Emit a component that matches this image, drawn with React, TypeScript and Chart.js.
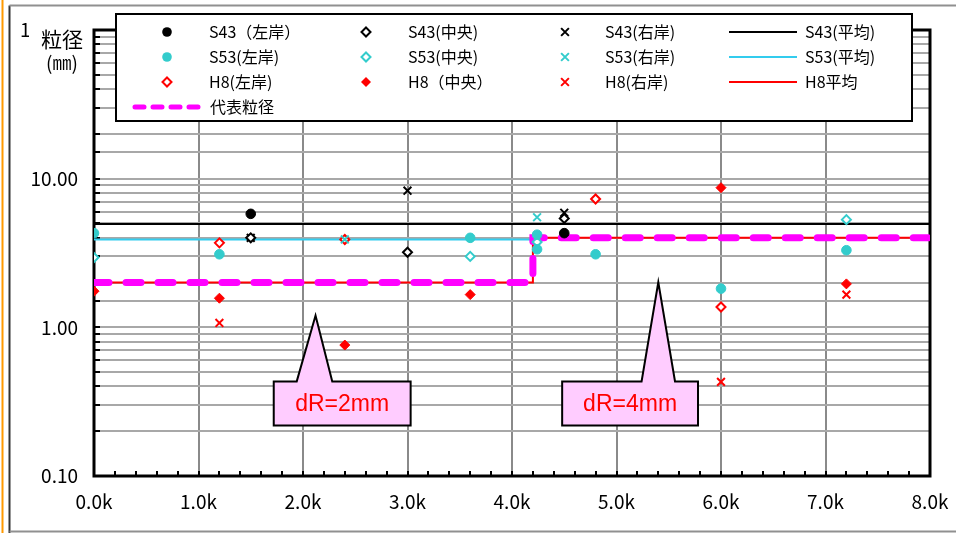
import React, { useEffect, useRef } from 'react';
import { Chart, registerables } from 'chart.js';

Chart.register(...registerables);

// ---- data (distance in k, grain size in mm) ----
const s43Left = [[1.5, 5.8], [4.5, 4.3]];
const s43Center = [[1.5, 4.0], [3.0, 3.2], [4.5, 5.4]];
const s43Right = [[1.5, 4.0], [3.0, 8.3], [4.5, 5.9]];
const s53Left = [[0, 4.3], [1.2, 3.1], [3.6, 4.0], [4.24, 4.2], [4.24, 3.35], [4.8, 3.1], [6.0, 1.82], [7.2, 3.3]];
const s53Center = [[0, 2.95], [3.6, 3.0], [4.24, 3.75], [7.2, 5.3]];
const s53Right = [[2.4, 3.9], [4.24, 5.5]];
const h8Left = [[1.2, 3.7], [2.4, 3.9], [4.8, 7.3], [6.0, 1.37]];
const h8Center = [[0, 1.75], [1.2, 1.57], [2.4, 0.76], [3.6, 1.66], [6.0, 8.7], [7.2, 1.96]];
const h8Right = [[1.2, 1.07], [6.0, 0.43], [7.2, 1.66]];
const s43Avg = [[0, 4.95], [8, 4.95]];
const s53Avg = [[0, 3.9], [4.2, 3.9]];
const h8Avg = [[0, 2.0], [4.2, 2.0], [4.2, 4.0], [8, 4.0]];
const repSize = [[0, 2.0], [4.2, 2.0], [4.2, 4.0], [8, 4.0]];

const xMin = 0;
const xMax = 8;
const yMin = 0.1;
const yMax = 100;

const callouts = [
  { text: 'dR=2mm', tip: [2.12, 1.2], base: [1.94, 2.28], box: [1.72, 3.03, 0.433, 0.219] },
  { text: 'dR=4mm', tip: [5.4, 2.01], base: [5.24, 5.56], box: [4.48, 5.78, 0.433, 0.219] },
];

const FONT = '"Noto Sans CJK JP", "Noto Sans", sans-serif';
const CYAN = '#33CCCC';
const SKY = '#33CCEE';
const RED = '#FF0000';
const MAGENTA = '#FF00FF';

const toXY = (arr: number[][]) => arr.map(([x, y]) => ({ x, y }));

type Mk = 'circle' | 'diamondOpen' | 'diamondFill' | 'cross' | 'line' | 'dash';

function pointDs(label: string, data: number[][], color: string, mk: Mk, row: number, col: number) {
  const base: any = {
    label,
    data: toXY(data),
    showLine: false,
    order: 0,
    mk,
    row,
    col,
    mkColor: color,
  };
  if (mk === 'circle') {
    Object.assign(base, { pointStyle: 'circle', pointRadius: 4.8, backgroundColor: color, borderColor: color, borderWidth: 1 });
  } else if (mk === 'diamondOpen') {
    Object.assign(base, { pointStyle: 'rectRot', pointRadius: 4.5, backgroundColor: '#ffffff', borderColor: color, borderWidth: 2 });
  } else if (mk === 'diamondFill') {
    Object.assign(base, { pointStyle: 'rectRot', pointRadius: 5, backgroundColor: color, borderColor: color, borderWidth: 1 });
  } else {
    Object.assign(base, { pointStyle: 'crossRot', pointRadius: 5.5, backgroundColor: color, borderColor: color, borderWidth: 2 });
  }
  return base;
}

function lineDs(label: string, data: number[][], color: string, row: number, col: number, width = 2, dash?: number[]) {
  return {
    label,
    data: toXY(data),
    showLine: true,
    pointRadius: 0,
    borderColor: color,
    backgroundColor: color,
    borderWidth: width,
    borderDash: dash || [],
    borderCapStyle: dash ? 'round' : 'butt',
    tension: 0,
    order: dash ? 1 : 2,
    mk: dash ? 'dash' : 'line',
    row,
    col,
    mkColor: color,
  };
}

function drawMarker(ctx: CanvasRenderingContext2D, mk: Mk, x: number, y: number, color: string) {
  ctx.save();
  ctx.strokeStyle = color;
  ctx.fillStyle = color;
  if (mk === 'circle') {
    ctx.beginPath();
    ctx.arc(x, y, 4.8, 0, Math.PI * 2);
    ctx.fill();
  } else if (mk === 'diamondOpen' || mk === 'diamondFill') {
    const r = mk === 'diamondOpen' ? 4.5 : 5;
    ctx.beginPath();
    ctx.moveTo(x, y - r);
    ctx.lineTo(x + r, y);
    ctx.lineTo(x, y + r);
    ctx.lineTo(x - r, y);
    ctx.closePath();
    if (mk === 'diamondOpen') {
      ctx.fillStyle = '#fff';
      ctx.fill();
      ctx.lineWidth = 2;
      ctx.stroke();
    } else {
      ctx.fill();
    }
  } else if (mk === 'cross') {
    const d = 5.5 * Math.SQRT1_2;
    ctx.lineWidth = 2;
    ctx.beginPath();
    ctx.moveTo(x - d, y - d);
    ctx.lineTo(x + d, y + d);
    ctx.moveTo(x + d, y - d);
    ctx.lineTo(x - d, y + d);
    ctx.stroke();
  }
  ctx.restore();
}

const isPow10 = (v: number) => Math.abs(Math.log10(v) - Math.round(Math.log10(v))) < 1e-9;

const decorPlugin = {
  id: 'decor',
  beforeDatasetsDraw(chart: any) {
    const { ctx, chartArea: a, scales } = chart;
    const xs = scales.x;
    const ys = scales.y;
    ctx.save();
    // inner ticks on y axis
    ctx.strokeStyle = '#000';
    ctx.lineWidth = 2;
    ys.ticks.forEach((t: any) => {
      const py = Math.round(ys.getPixelForValue(t.value));
      ctx.beginPath();
      ctx.moveTo(a.left, py);
      ctx.lineTo(a.left + 6, py);
      ctx.stroke();
    });
    // inner minor ticks on x axis
    for (let i = 0; i <= 40; i++) {
      const px = Math.round(xs.getPixelForValue(i * 0.2));
      ctx.beginPath();
      ctx.moveTo(px, a.bottom);
      ctx.lineTo(px, a.bottom - 5);
      ctx.stroke();
    }
    // plot frame
    ctx.lineWidth = 3;
    ctx.strokeRect(a.left, a.top, a.right - a.left, a.bottom - a.top);
    ctx.restore();
  },
  afterDraw(chart: any) {
    const { ctx, scales } = chart;
    const xs = scales.x;
    const ys = scales.y;
    ctx.save();

    // outer frame
    ctx.strokeStyle = '#FF9900';
    ctx.lineWidth = 2;
    ctx.beginPath();
    ctx.moveTo(2.5, 0);
    ctx.lineTo(2.5, 533);
    ctx.stroke();
    ctx.strokeStyle = '#333';
    ctx.lineWidth = 2;
    ctx.beginPath();
    ctx.moveTo(9.5, 533);
    ctx.lineTo(9.5, 5.5);
    ctx.stroke();
    ctx.strokeStyle = '#909090';
    ctx.beginPath();
    ctx.moveTo(9.5, 5.5);
    ctx.lineTo(956, 5.5);
    ctx.moveTo(9.5, 531.5);
    ctx.lineTo(956, 531.5);
    ctx.stroke();

    // axis title with white backing (covers part of top tick label)
    ctx.fillStyle = '#fff';
    ctx.fillRect(29, 12, 61, 66);
    ctx.fillStyle = '#000';
    ctx.font = `21px ${FONT}`;
    ctx.textAlign = 'center';
    ctx.textBaseline = 'middle';
    ctx.fillText('粒径', 62, 39);
    ctx.font = `19px ${FONT}`;
    ctx.fillText('(㎜)', 62, 63);

    // callouts
    callouts.forEach((c) => {
      const l = xs.getPixelForValue(c.box[0]);
      const r = xs.getPixelForValue(c.box[1]);
      const t = ys.getPixelForValue(c.box[2]);
      const b = ys.getPixelForValue(c.box[3]);
      const tx = xs.getPixelForValue(c.tip[0]);
      const ty = ys.getPixelForValue(c.tip[1]);
      const b1 = xs.getPixelForValue(c.base[0]);
      const b2 = xs.getPixelForValue(c.base[1]);
      ctx.beginPath();
      ctx.moveTo(l, t);
      ctx.lineTo(b1, t);
      ctx.lineTo(tx, ty);
      ctx.lineTo(b2, t);
      ctx.lineTo(r, t);
      ctx.lineTo(r, b);
      ctx.lineTo(l, b);
      ctx.closePath();
      ctx.fillStyle = '#FFCCFF';
      ctx.fill();
      ctx.strokeStyle = '#000';
      ctx.lineWidth = 2;
      ctx.lineJoin = 'miter';
      ctx.stroke();
      ctx.fillStyle = RED;
      ctx.font = '23px "Liberation Sans", Arial, sans-serif';
      ctx.textAlign = 'center';
      ctx.textBaseline = 'middle';
      ctx.fillText(c.text, (l + r) / 2, (t + b) / 2 + 1);
    });

    // legend
    const box = { l: 116, t: 14, r: 912, b: 121 };
    ctx.fillStyle = '#fff';
    ctx.fillRect(box.l, box.t, box.r - box.l, box.b - box.t);
    ctx.strokeStyle = '#000';
    ctx.lineWidth = 2;
    ctx.strokeRect(box.l, box.t, box.r - box.l, box.b - box.t);
    const rowsY = [32, 57, 82, 107];
    const markX = [167, 366, 565];
    const textX = [209, 408, 605, 805];
    ctx.font = `16px ${FONT}`;
    ctx.textAlign = 'left';
    ctx.textBaseline = 'middle';
    chart.data.datasets.forEach((ds: any) => {
      const y = rowsY[ds.row];
      if (ds.mk === 'line') {
        ctx.strokeStyle = ds.mkColor;
        ctx.lineWidth = 2;
        ctx.beginPath();
        ctx.moveTo(729, y);
        ctx.lineTo(797, y);
        ctx.stroke();
        ctx.fillStyle = '#000';
        ctx.fillText(ds.label, textX[3], y);
      } else if (ds.mk === 'dash') {
        ctx.save();
        ctx.strokeStyle = ds.mkColor;
        ctx.lineWidth = 5;
        ctx.lineCap = 'round';
        ctx.setLineDash([9, 9]);
        ctx.beginPath();
        ctx.moveTo(135, y);
        ctx.lineTo(200, y);
        ctx.stroke();
        ctx.restore();
        ctx.fillStyle = '#000';
        ctx.fillText(ds.label, 210, y);
      } else {
        drawMarker(ctx, ds.mk, markX[ds.col], y, ds.mkColor);
        ctx.fillStyle = '#000';
        ctx.fillText(ds.label, textX[ds.col], y);
      }
    });
    ctx.restore();
  },
};

export default function App() {
  const ref = useRef<HTMLCanvasElement>(null);
  useEffect(() => {
    if (!ref.current) return;
    const datasets: any[] = [
      pointDs('S43（左岸）', s43Left, '#000000', 'circle', 0, 0),
      pointDs('S43(中央)', s43Center, '#000000', 'diamondOpen', 0, 1),
      pointDs('S43(右岸)', s43Right, '#000000', 'cross', 0, 2),
      lineDs('S43(平均)', s43Avg, '#000000', 0, 3),
      pointDs('S53(左岸)', s53Left, CYAN, 'circle', 1, 0),
      pointDs('S53(中央)', s53Center, CYAN, 'diamondOpen', 1, 1),
      pointDs('S53(右岸)', s53Right, CYAN, 'cross', 1, 2),
      lineDs('S53(平均)', s53Avg, SKY, 1, 3),
      pointDs('H8(左岸)', h8Left, RED, 'diamondOpen', 2, 0),
      pointDs('H8（中央）', h8Center, RED, 'diamondFill', 2, 1),
      pointDs('H8(右岸)', h8Right, RED, 'cross', 2, 2),
      lineDs('H8平均', h8Avg, RED, 2, 3),
      lineDs('代表粒径', repSize, MAGENTA, 3, 0, 7, [15, 17]),
    ];
    const chart = new Chart(ref.current, {
      type: 'scatter',
      data: { datasets },
      options: {
        animation: false,
        responsive: false,
        layout: { padding: { left: 0, right: 26, top: 30, bottom: 0 } },
        plugins: { legend: { display: false }, tooltip: { enabled: false } },
        scales: {
          x: {
            type: 'linear',
            position: 'bottom',
            min: xMin,
            max: xMax,
            afterFit: (s: any) => {
              s.height = 57;
              s.paddingLeft = 0;
              s.paddingRight = 0;
            },
            ticks: {
              stepSize: 1,
              autoSkip: false,
              maxRotation: 0,
              padding: 14,
              color: '#000',
              font: { family: FONT, size: 19 },
              callback: (v: any) => Number(v).toFixed(1) + 'k',
            },
            grid: { color: '#8a8a8a', lineWidth: 2, drawTicks: false },
            border: { display: false },
          },
          y: {
            type: 'logarithmic',
            min: yMin,
            max: yMax,
            afterFit: (s: any) => {
              s.width = 94;
              s.paddingTop = 0;
              s.paddingBottom = 0;
            },
            ticks: {
              autoSkip: false,
              padding: 16,
              color: '#000',
              font: { family: FONT, size: 19 },
              callback: (v: any) => (isPow10(Number(v)) ? Number(v).toFixed(2) : ''),
            },
            grid: { color: '#a8a8a8', lineWidth: 2, drawTicks: false },
            border: { display: false },
          },
        },
      } as any,
      plugins: [decorPlugin],
    });
    return () => chart.destroy();
  }, []);
  return (
    <div style={{ position: 'fixed', left: 0, top: 0, width: 956, height: 533, background: '#fff' }}>
      <canvas ref={ref} width={956} height={533} style={{ width: 956, height: 533, display: 'block' }} />
    </div>
  );
}
